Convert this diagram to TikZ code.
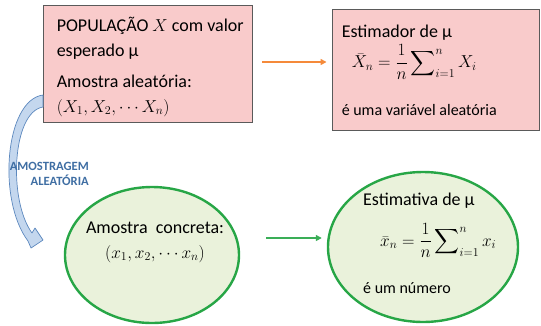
\documentclass[tikz,border=0pt]{standalone}
\usepackage{amsmath}
\usepackage{fontspec}
\setmainfont{Carlito}
\usepackage{tikz}
\usetikzlibrary{positioning,arrows.meta,shapes.geometric}
\definecolor{boxpink}{HTML}{F9CBCB}
\definecolor{boxline}{HTML}{5A5A5A}
\definecolor{ovalfill}{HTML}{EAF2DB}
\definecolor{ovalline}{HTML}{27A646}
\definecolor{arrorange}{HTML}{F58A3A}
\definecolor{arrgreen}{HTML}{3AAE57}
\definecolor{bandfill}{HTML}{C4D7EE}
\definecolor{bandline}{HTML}{5C88BE}
\definecolor{labblue}{HTML}{3F6EA3}

\begin{document}
\begin{tikzpicture}[x=1pt, y=-1pt,
pinkbox/.style={draw=boxline, line width=0.9pt, fill=boxpink, inner sep=0pt},
oval/.style={ellipse, draw=ovalline, line width=2.4pt, fill=ovalfill, inner sep=0pt},
txt/.style={inner sep=0pt, align=left, font=\fontsize{18}{25}\selectfont},
smalltxt/.style={inner sep=0pt, font=\fontsize{16}{20}\selectfont},
samplelabel/.style={inner sep=0pt, align=right, text=labblue, font=\fontsize{12.6}{15}\selectfont\bfseries},
orangearr/.style={draw=arrorange, line width=1.6pt, -{Triangle[length=6pt,width=6pt]}},
greenarr/.style={draw=arrgreen, line width=1.6pt, -{Triangle[length=6pt,width=6pt]}}]
\useasboundingbox (0,0) rectangle (541,325);

\node[pinkbox, minimum width=209pt, minimum height=117pt] (pop) at (147.5,63.5) {};
\node[txt, anchor=base west] (poptxt) at ([shift={(14,48.5)}]pop.west)
  {POPULAÇÃO $X$ com valor\\ esperado μ\\[6pt] Amostra aleatória:\\ $(X_1,X_2,\cdots X_n)$};

\node[pinkbox, minimum width=207pt, minimum height=121pt] (est) at (435.5,69.5) {};
\node[txt, anchor=base west] (esttit) at ([shift={(10,29)}]est.north west) {Estimador de μ};
\node[txt, anchor=base west] (estform) at ([shift={(20,59)}]est.north west)
  {$\displaystyle \bar{X}_n=\frac{1}{n}\sum\nolimits_{i=1}^{n}X_i$};
\node[smalltxt, anchor=base west] (estnote) at ([shift={(10,107)}]est.north west) {é uma variável aleatória};

\node[oval, minimum width=174pt, minimum height=136pt] (conc) at (152,255) {};
\node[txt, align=center, anchor=base] (conctxt) at ([shift={(3,3)}]conc.center)
  {Amostra\ \ concreta:\\ $(x_1,x_2,\cdots x_n)$};

\node[oval, minimum width=190pt, minimum height=150pt] (estv) at (423,247) {};
\node[txt, anchor=base west] (estvtit) at ([shift={(-60,-42)}]estv.center) {Estimativa de μ};
\node[txt, anchor=base west] (estvform) at ([shift={(-43,-1)}]estv.center)
  {$\displaystyle \bar{x}_n=\frac{1}{n}\sum\nolimits_{i=1}^{n}x_i$};
\node[smalltxt, anchor=base west] (estvnote) at ([shift={(-60,46)}]estv.center) {é um número};

\draw[orangearr, shorten <=10pt, shorten >=5pt] ([yshift=1.5pt]pop.east) -- ([yshift=1.5pt]pop.east -| est.west);
\draw[greenarr, shorten <=26pt, shorten >=5pt] ([yshift=17pt]conc.east) -- ([yshift=17pt]conc.east -| estv.west);

\draw[draw=bandline, fill=bandfill, line width=0.7pt, line join=round]
  (43,95) .. controls (5,100) and (-3,200) .. (28,241) -- (31,248) -- (43,240) -- (35,228) -- (32,233)
  .. controls (8,200) and (12,112) .. (43,107) -- cycle;
\node[samplelabel, anchor=north east] (samplab) at (89,162) {AMOSTRAGEM\\ALEATÓRIA};
\end{tikzpicture}
\end{document}
